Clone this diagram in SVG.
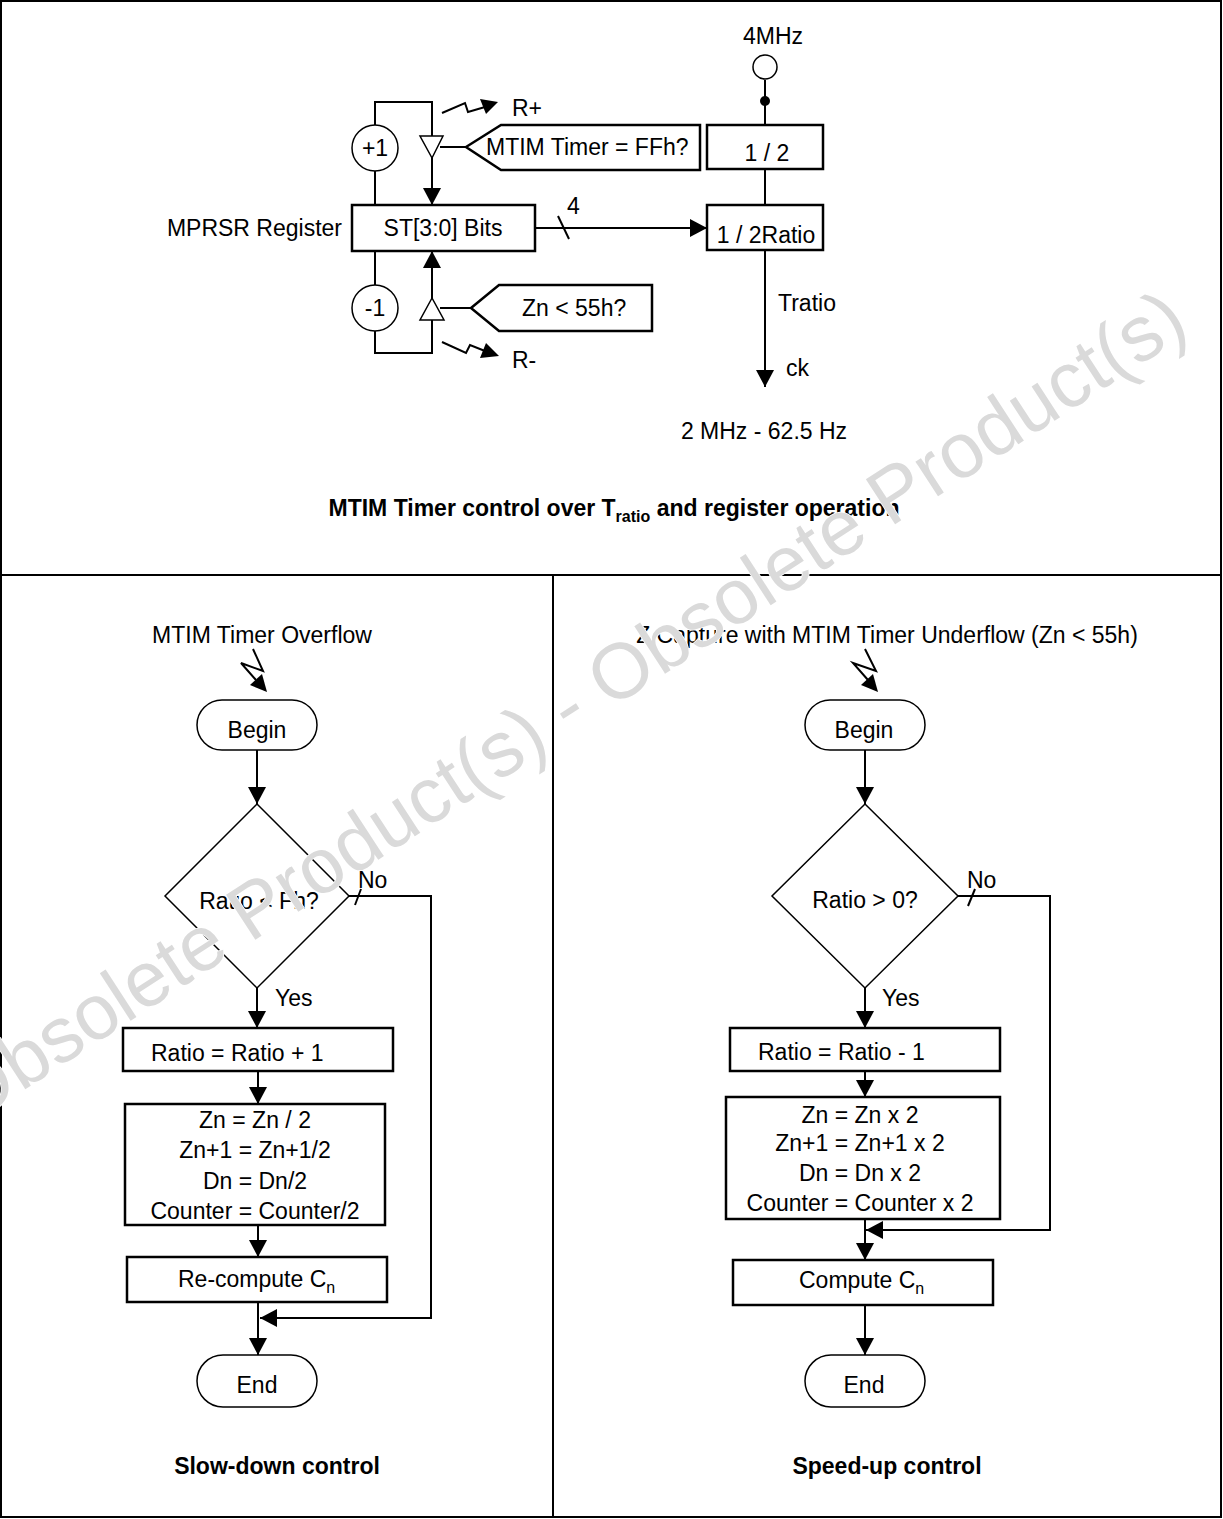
<svg xmlns="http://www.w3.org/2000/svg" width="1223" height="1519" viewBox="0 0 1223 1519">
<style>
text{font-family:"Liberation Sans",Arial,Helvetica,sans-serif;font-size:23px;fill:#000}
.b{font-weight:bold}
.m{text-anchor:middle}
.ln{stroke:#000;stroke-width:2;fill:none}
.bx{fill:#fff;stroke:#000;stroke-width:2.5}
.tm{fill:#fff;stroke:#000;stroke-width:1.5}
.ah{fill:#000;stroke:none}
.wm{font-size:78px;fill:#dadada;stroke:#fff;stroke-width:1.5;paint-order:stroke}
</style>
<defs>
<marker id="arr" markerUnits="userSpaceOnUse" viewBox="0 0 17 18" refX="17" refY="9" markerWidth="17" markerHeight="18" orient="auto">
<path d="M0,0 L17,9 L0,18 Z" fill="#000"/>
</marker>
</defs>
<rect width="1223" height="1519" fill="#fff"/>
<g id="frame" fill="none" stroke="#000" stroke-width="2">
<rect x="1" y="1" width="1220" height="1516"/>
<line x1="1" y1="575" x2="1221" y2="575"/>
<line x1="553" y1="575" x2="553" y2="1517"/>
</g>

<g id="connectors">
<line class="ln" x1="765" y1="80" x2="765" y2="125"/>
<line class="ln" x1="765" y1="169" x2="765" y2="205"/>
<line class="ln" x1="765" y1="250" x2="765" y2="387" marker-end="url(#arr)"/>
<line class="ln" x1="535" y1="228" x2="707" y2="228" marker-end="url(#arr)"/>
<line class="ln" x1="558" y1="216" x2="569" y2="239"/>
<path class="ln" d="M375,205 V102 H432 V205" marker-end="url(#arr)"/>
<path class="ln" d="M375,250 V353 H432 V251" marker-end="url(#arr)"/>
<line class="ln" x1="440" y1="147" x2="466" y2="147"/>
<line class="ln" x1="440" y1="308" x2="471" y2="308"/>
<polyline class="ln" points="442,113 465,103 468,112 485,107"/>
<path class="ah" d="M498,102 L480,99 L486,114 Z"/>
<polyline class="ln" points="442,342 466,353 470,345 485,351"/>
<path class="ah" d="M499,356 L486,343 L480,358 Z"/>
<polyline class="ln" points="253,649 263,671 241,663 256,680"/>
<path class="ah" d="M267,692 L250,685 L262,674 Z"/>
<line class="ln" x1="257" y1="750" x2="257" y2="804" marker-end="url(#arr)"/>
<line class="ln" x1="257" y1="988" x2="257" y2="1028" marker-end="url(#arr)"/>
<line class="ln" x1="258" y1="1071" x2="258" y2="1104" marker-end="url(#arr)"/>
<line class="ln" x1="258" y1="1225" x2="258" y2="1257" marker-end="url(#arr)"/>
<line class="ln" x1="258" y1="1302" x2="258" y2="1355" marker-end="url(#arr)"/>
<path class="ln" d="M349,896 H431 V1318 H260" marker-end="url(#arr)"/>
<line class="ln" x1="361" y1="889" x2="355" y2="905"/>
<polyline class="ln" points="865,649 876,671 853,663 868,680"/>
<path class="ah" d="M878,692 L861,685 L873,674 Z"/>
<line class="ln" x1="865" y1="750" x2="865" y2="804" marker-end="url(#arr)"/>
<line class="ln" x1="865" y1="988" x2="865" y2="1028" marker-end="url(#arr)"/>
<line class="ln" x1="865" y1="1071" x2="865" y2="1097" marker-end="url(#arr)"/>
<line class="ln" x1="865" y1="1219" x2="865" y2="1260" marker-end="url(#arr)"/>
<line class="ln" x1="865" y1="1305" x2="865" y2="1355" marker-end="url(#arr)"/>
<path class="ln" d="M958,896 H1050 V1230 H866" marker-end="url(#arr)"/>
<line class="ln" x1="975" y1="889" x2="968" y2="906"/>
</g>

<g id="n-4mhz">
<text class="m" x="773" y="44">4MHz</text>
<circle cx="765" cy="67" r="12" class="tm"/>
<circle cx="765" cy="101" r="5" fill="#000"/>
</g>
<g id="n-div2">
<rect class="bx" x="707" y="125" width="116" height="44"/>
<text class="m" x="767" y="161">1 / 2</text>
</g>
<g id="n-div2ratio">
<rect class="bx" x="707" y="205" width="116" height="45"/>
<text class="m" x="766" y="243">1 / 2Ratio</text>
</g>
<g id="n-st">
<text x="342" y="236" text-anchor="end">MPRSR Register</text>
<rect class="bx" x="352" y="205" width="183" height="46"/>
<text class="m" x="443" y="236">ST[3:0] Bits</text>
<text x="567" y="214">4</text>
</g>
<g id="n-plus1">
<circle class="tm" cx="375" cy="148" r="23"/>
<text class="m" x="375" y="156">+1</text>
</g>
<g id="n-minus1">
<circle class="tm" cx="375" cy="308" r="23"/>
<text class="m" x="375" y="316">-1</text>
</g>
<g id="n-trig-up">
<polygon class="tm" points="420,136 443,136 432,158"/>
<path class="bx" d="M466,147 L501,125 L700,125 L700,170 L501,170 Z"/>
<text x="486" y="155">MTIM Timer = FFh?</text>
<text x="512" y="116">R+</text>
</g>
<g id="n-trig-down">
<polygon class="tm" points="432,298 420,320 444,320"/>
<path class="bx" d="M471,308 L499,285 L652,285 L652,331 L499,331 Z"/>
<text x="522" y="316">Zn &lt; 55h?</text>
<text x="512" y="368">R-</text>
</g>
<g id="n-out">
<text x="778" y="311">Tratio</text>
<text x="786" y="376">ck</text>
<text class="m" x="764" y="439">2 MHz - 62.5 Hz</text>
</g>
<g id="title-top">
<text class="b m" x="614" y="516">MTIM Timer control over T<tspan font-size="16" dy="6">ratio</tspan><tspan dy="-6"> and register operation</tspan></text>
</g>

<g id="l-trigger"><text class="m" x="262" y="643">MTIM Timer Overflow</text></g>
<g id="l-begin">
<rect class="tm" x="197" y="700" width="120" height="50" rx="25"/>
<text class="m" x="257" y="738">Begin</text>
</g>
<g id="l-dec">
<polygon class="tm" points="257,804 349,896 257,988 165,896"/>
<text class="m" x="259" y="909">Ratio &lt; Fh?</text>
<text x="358" y="888">No</text>
<text x="275" y="1006">Yes</text>
</g>
<g id="l-inc">
<rect class="bx" x="123" y="1028" width="270" height="43"/>
<text x="151" y="1061">Ratio = Ratio + 1</text>
</g>
<g id="l-div">
<rect class="bx" x="125" y="1104" width="260" height="121"/>
<text class="m" x="255" y="1128">Zn = Zn / 2</text>
<text class="m" x="255" y="1158">Zn+1 = Zn+1/2</text>
<text class="m" x="255" y="1189">Dn = Dn/2</text>
<text class="m" x="255" y="1219">Counter = Counter/2</text>
</g>
<g id="l-recomp">
<rect class="bx" x="127" y="1257" width="260" height="45"/>
<text x="178" y="1287">Re-compute C<tspan font-size="16" dy="6">n</tspan></text>
</g>
<g id="l-end">
<rect class="tm" x="197" y="1355" width="120" height="52" rx="26"/>
<text class="m" x="257" y="1393">End</text>
</g>
<g id="l-caption"><text class="b m" x="277" y="1474">Slow-down control</text></g>

<g id="r-trigger"><text class="m" x="887" y="643">Z Capture with MTIM Timer Underflow (Zn &lt; 55h)</text></g>
<g id="r-begin">
<rect class="tm" x="805" y="700" width="120" height="50" rx="25"/>
<text class="m" x="864" y="738">Begin</text>
</g>
<g id="r-dec">
<polygon class="tm" points="865,804 958,896 865,988 772,896"/>
<text class="m" x="865" y="908">Ratio &gt; 0?</text>
<text x="967" y="888">No</text>
<text x="882" y="1006">Yes</text>
</g>
<g id="r-dec1">
<rect class="bx" x="730" y="1028" width="270" height="43"/>
<text x="758" y="1060">Ratio = Ratio - 1</text>
</g>
<g id="r-mul">
<rect class="bx" x="726" y="1097" width="274" height="122"/>
<text class="m" x="860" y="1123">Zn = Zn x 2</text>
<text class="m" x="860" y="1151">Zn+1 = Zn+1 x 2</text>
<text class="m" x="860" y="1181">Dn = Dn x 2</text>
<text class="m" x="860" y="1211">Counter = Counter x 2</text>
</g>
<g id="r-comp">
<rect class="bx" x="733" y="1260" width="260" height="45"/>
<text x="799" y="1288">Compute C<tspan font-size="16" dy="6">n</tspan></text>
</g>
<g id="r-end">
<rect class="tm" x="805" y="1355" width="120" height="52" rx="26"/>
<text class="m" x="864" y="1393">End</text>
</g>
<g id="r-caption"><text class="b m" x="887" y="1474">Speed-up control</text></g>

<g id="watermark">
<text class="wm" transform="translate(-30,1125) rotate(-33)">Obsolete Product(s) - Obsolete Product(s)</text>
</g>
</svg>
